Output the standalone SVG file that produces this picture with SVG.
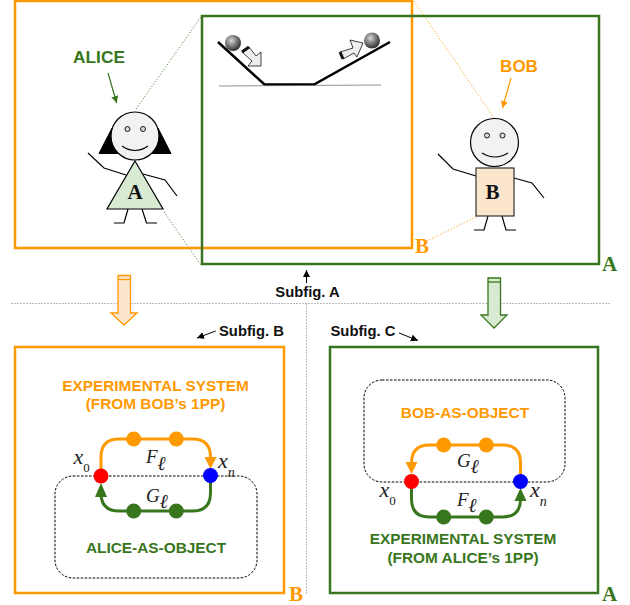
<svg xmlns="http://www.w3.org/2000/svg" width="630" height="605" viewBox="0 0 630 605">
<defs>
<radialGradient id="ball" cx="0.4" cy="0.35" r="0.65"><stop offset="0" stop-color="#d8d8d8"/><stop offset="0.5" stop-color="#808080"/><stop offset="1" stop-color="#303030"/></radialGradient>
<marker id="ag" markerWidth="9" markerHeight="9" refX="7" refY="3.500" orient="auto" markerUnits="userSpaceOnUse"><path d="M0 0L7 3.500L0 7Z" fill="#38761d"/></marker>
<marker id="ao" markerWidth="9" markerHeight="9" refX="7" refY="3.500" orient="auto" markerUnits="userSpaceOnUse"><path d="M0 0L7 3.500L0 7Z" fill="#ff9900"/></marker>
<marker id="ak" markerWidth="9" markerHeight="9" refX="7" refY="3.500" orient="auto" markerUnits="userSpaceOnUse"><path d="M0 0L7 3.500L0 7Z" fill="#000"/></marker>
</defs>
<style>
text{font-family:"Liberation Sans",Arial,sans-serif;font-weight:bold}
.g{fill:#38761d}.o{fill:#ff9900}
.bg{fill:none;stroke:#38761d;stroke-width:2.500}
.bo{fill:none;stroke:#ff9900;stroke-width:2.500}
.serif{font-family:"Liberation Serif","Times New Roman",serif}
.it{font-family:"Liberation Serif","Times New Roman",serif;font-style:italic;font-weight:normal;fill:#222}
.st{fill:none;stroke:#000;stroke-width:1.200}
.dash{fill:none;stroke:#000;stroke-width:1;stroke-dasharray:2.500 1.500}
.pg{fill:none;stroke:#38761d;stroke-width:3}
.po{fill:none;stroke:#ff9900;stroke-width:3}
.lbl{font-size:14.800px}
.big{font-size:15.400px}
.ell{font-size:20px;font-weight:bold}
.sub0{font-size:13px;font-style:normal}
</style>

<g id="separators" fill="none" stroke="#aaa" stroke-width="0.8" stroke-dasharray="2 1">
<path d="M11 303.500H611"/><path d="M306.500 304V594"/>
</g>

<g id="zoom-lines" fill="none" stroke-width="1" stroke-dasharray="1 2">
<path d="M136 109L201 17" stroke="#38761d"/><path d="M164 212L201 265" stroke="#38761d"/>
<path d="M414 1L494 118" stroke="#ff9900"/><path d="M476 217L427 241" stroke="#ff9900"/>
</g>

<g id="frame-B-top"><path class="bo" d="M15 1H412V248H15Z"/><text x="415" y="253" class="serif o" font-size="21">B</text></g>
<g id="frame-A-top"><path class="bg" d="M202 16H599V264H202Z"/><text x="602" y="271" class="serif g" font-size="21">A</text></g>

<g id="experiment">
<path d="M218 42L264.500 84.500H314L390 42" fill="none" stroke="#000" stroke-width="2.500"/>
<path d="M219 86L381 85" fill="none" stroke="#777" stroke-width="0.800"/>
<circle cx="233" cy="43" r="8" fill="url(#ball)"/><circle cx="372" cy="40.500" r="8" fill="url(#ball)"/>
<path d="M242 52L249 47L256 56L261 52V66H248L252 61Z" fill="#eee" stroke="#111" stroke-width="0.800"/>
<path d="M242 52L249 47" stroke="#111" stroke-width="3" fill="none"/>
<path d="M343 59L340 52L353 48L350 40L363 43L357 57L354 53Z" fill="#eee" stroke="#111" stroke-width="0.800"/>
<path d="M343 59L340 52" stroke="#111" stroke-width="3" fill="none"/>
</g>

<g id="alice">
<text x="99" y="63" text-anchor="middle" class="g" font-size="17.300">ALICE</text>
<path d="M108 73L116.700 103" fill="none" stroke="#38761d" stroke-width="1.200" marker-end="url(#ag)"/>
<path d="M112 128L99 153.500H125ZM158 128L171 153.500H145Z" fill="#000" stroke="#000"/>
<circle cx="135" cy="136" r="24" fill="#f2f2f2" stroke="#000" stroke-width="1.200"/>
<circle cx="127.500" cy="129" r="2.500" fill="#ddd" stroke="#000" stroke-width="0.900"/><circle cx="143" cy="129" r="2.500" fill="#ddd" stroke="#000" stroke-width="0.900"/>
<path class="st" d="M122 146Q135 155 148 146"/>
<path class="st" d="M126 175L104 168L88 153M143 174L165 180L177 196M128 209L124 223H114M142 209L146.500 223H157"/>
<path d="M135 161L163 209H107Z" fill="#d9ead3" stroke="#000" stroke-width="1.200"/>
<text x="135" y="199" text-anchor="middle" class="serif" font-size="21" fill="#111">A</text>
</g>

<g id="bob">
<text x="519" y="72" text-anchor="middle" class="o" font-size="17">BOB</text>
<path d="M511 78L502.500 108" fill="none" stroke="#ff9900" stroke-width="1.200" marker-end="url(#ao)"/>
<circle cx="494.500" cy="142.500" r="24" fill="#f2f2f2" stroke="#000" stroke-width="1.200"/>
<circle cx="487" cy="135.500" r="2.500" fill="#ddd" stroke="#000" stroke-width="0.900"/><circle cx="502.500" cy="135.500" r="2.500" fill="#ddd" stroke="#000" stroke-width="0.900"/>
<path class="st" d="M482 153Q495 161 508 153"/>
<path class="st" d="M476 176L453 169L438 154M514 178L532 183L544 198M488 216L484 230H474M502 216L506 230H516"/>
<rect x="476" y="168" width="38" height="48" fill="#fce5cd" stroke="#333" stroke-width="1.200"/>
<text x="492.500" y="199" text-anchor="middle" class="serif" font-size="21" fill="#111">B</text>
</g>

<g id="down-arrows">
<path d="M118 275.500H130.500V313H137L124 325L111 313H118Z" fill="#fce5cd" stroke="#ff9900" stroke-width="1.300"/><path d="M118 279.500H130.500" stroke="#ff9900" stroke-width="1.300"/>
<path d="M488 278H500.500V315H507L494 328L481 315H488Z" fill="#d9ead3" stroke="#38761d" stroke-width="1.300"/><path d="M488 282H500.500" stroke="#38761d" stroke-width="1.300"/>
</g>

<g id="captions">
<text x="307.500" y="297" text-anchor="middle" class="lbl" fill="#111">Subfig. A</text>
<path d="M306.500 283L306.500 270" stroke="#000" stroke-width="1" fill="none" marker-end="url(#ak)"/>
<text x="219" y="336" class="lbl" fill="#111">Subfig. B</text>
<path d="M215.700 331L197 338" stroke="#000" stroke-width="1" fill="none" marker-end="url(#ak)"/>
<text x="330.500" y="336" class="lbl" fill="#111">Subfig. C</text>
<path d="M399 333L418 340.500" stroke="#000" stroke-width="1" fill="none" marker-end="url(#ak)"/>
</g>

<g id="panel-B">
<rect x="15" y="347" width="269" height="246" class="bo"/>
<text x="289" y="601" class="serif o" font-size="21">B</text>
<text x="155.500" y="391" text-anchor="middle" class="o big">EXPERIMENTAL SYSTEM</text>
<text x="155.500" y="409" text-anchor="middle" class="o big">(FROM BOB’s 1PP)</text>
<rect x="55" y="476" width="202" height="102" rx="18" class="dash"/>
<path class="po" d="M101 474V457Q101 439 119 439H192.500Q210.500 439 210.500 457V460"/>
<path d="M204.500 457H216.500L210.500 469Z" class="o"/>
<path class="pg" d="M210.500 482V493Q210.500 511 192.500 511H119Q101 511 101 493V492"/>
<path d="M95 497H107L101 483Z" class="g"/>
<circle cx="133.700" cy="439" r="7.500" class="o"/><circle cx="176.300" cy="439" r="7.500" class="o"/>
<circle cx="133.700" cy="511" r="7.500" class="g"/><circle cx="176.300" cy="511" r="7.500" class="g"/>
<circle cx="101" cy="476" r="7.500" fill="#ff0000"/><circle cx="210.500" cy="475.500" r="7.500" fill="#0000ff"/>
<text x="73.500" y="464" class="it" font-size="22">x<tspan class="sub0" dy="7.500">0</tspan></text>
<text x="218" y="468" class="it" font-size="22">x<tspan font-size="14" dy="9">n</tspan></text>
<text x="146" y="463" class="it" font-size="19">F<tspan class="ell" dy="7">ℓ</tspan></text>
<text x="146" y="502" class="it" font-size="19">G<tspan class="ell" dy="6">ℓ</tspan></text>
<text x="156" y="553" text-anchor="middle" class="g big">ALICE-AS-OBJECT</text>
</g>

<g id="panel-C">
<rect x="330" y="347" width="268" height="246" class="bg"/>
<text x="602" y="601" class="serif g" font-size="21">A</text>
<rect x="364" y="380" width="201" height="102" rx="18" class="dash"/>
<text x="465" y="418" text-anchor="middle" class="o big">BOB-AS-OBJECT</text>
<path class="po" d="M411.500 465V463Q411.500 445 429.500 445H502.500Q520.500 445 520.500 463V476"/>
<path d="M405.500 462H417.500L411.500 474Z" class="o"/>
<path class="pg" d="M411.500 484V499Q411.500 517 429.500 517H502.500Q520.500 517 520.500 499V497"/>
<path d="M514.500 501H526.500L520.500 488Z" class="g"/>
<circle cx="443.700" cy="445" r="7.500" class="o"/><circle cx="486.300" cy="445" r="7.500" class="o"/>
<circle cx="443.700" cy="517" r="7.500" class="g"/><circle cx="486.300" cy="517" r="7.500" class="g"/>
<circle cx="411.500" cy="481.500" r="7.500" fill="#ff0000"/><circle cx="520.500" cy="481.500" r="7.500" fill="#0000ff"/>
<text x="379.500" y="497" class="it" font-size="22">x<tspan class="sub0" dy="7.500">0</tspan></text>
<text x="530" y="497" class="it" font-size="22">x<tspan font-size="14" dy="9">n</tspan></text>
<text x="457" y="467" class="it" font-size="19">G<tspan class="ell" dy="6">ℓ</tspan></text>
<text x="457" y="506" class="it" font-size="19">F<tspan class="ell" dy="6">ℓ</tspan></text>
<text x="463" y="544" text-anchor="middle" class="g big">EXPERIMENTAL SYSTEM</text>
<text x="463" y="563" text-anchor="middle" class="g big">(FROM ALICE’s 1PP)</text>
</g>
</svg>
